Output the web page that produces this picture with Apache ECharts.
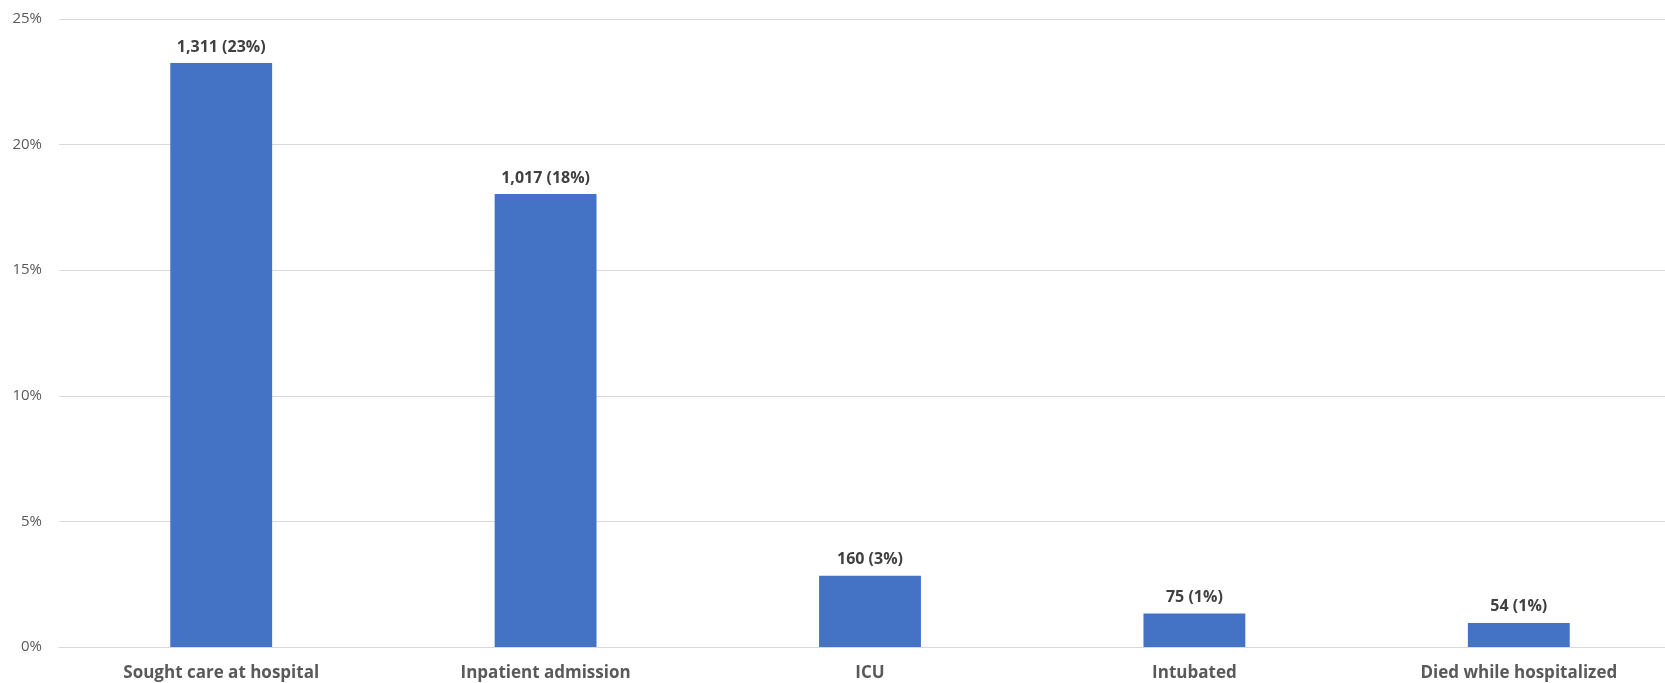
<!DOCTYPE html>
<html>
<head>
<meta charset="utf-8">
<script src="https://cdn.jsdelivr.net/npm/echarts@6/dist/echarts.min.js"></script>
<style>
  html, body { margin: 0; padding: 0; background: #fff; overflow: hidden; }
  /* plot runs a little past the right edge in the source, so the chart is wider than the window */
  #chart { width: 1681px; height: 683px; }
</style>
</head>
<body>
<div id="chart"></div>
<script>
// categories and values
var categories = ['Sought care at hospital', 'Inpatient admission', 'ICU', 'Intubated', 'Died while hospitalized'];
var counts = [1311, 1017, 160, 75, 54];
var percents = [23.25, 18.03, 2.84, 1.33, 0.96];
var labelPct = ['23%', '18%', '3%', '1%', '1%'];
var yTicks = [0, 5, 10, 15, 20, 25];

var myChart = echarts.init(document.getElementById('chart'));

function fmtCount(n) {
  return n.toLocaleString('en-US');
}

myChart.setOption({
  animation: false,
  grid: { left: 59, right: 0, top: 19, bottom: 36 },
  xAxis: {
    type: 'category',
    data: categories,
    axisTick: { show: false },
    axisLine: { lineStyle: { color: '#d9d9d9' } },
    axisLabel: {
      color: '#595959',
      fontFamily: 'Open Sans',
      fontWeight: 'bold',
      fontSize: 17,
      margin: 18
    }
  },
  yAxis: {
    type: 'value',
    min: yTicks[0],
    max: yTicks[yTicks.length - 1],
    interval: 5,
    axisLine: { show: false },
    axisTick: { show: false },
    splitLine: { lineStyle: { color: '#d9d9d9' } },
    axisLabel: {
      color: '#595959',
      fontFamily: 'Open Sans',
      fontSize: 15,
      margin: 17,
      formatter: '{value}%'
    }
  },
  series: [{
    type: 'bar',
    barWidth: '31.4%',
    data: percents,
    itemStyle: { color: '#4472c4' },
    label: {
      show: true,
      position: 'top',
      distance: 8,
      color: '#404040',
      fontFamily: 'Open Sans',
      fontWeight: 'bold',
      fontSize: 16,
      formatter: function (p) {
        return fmtCount(counts[p.dataIndex]) + ' (' + labelPct[p.dataIndex] + ')';
      }
    }
  }]
});
</script>
</body>
</html>
